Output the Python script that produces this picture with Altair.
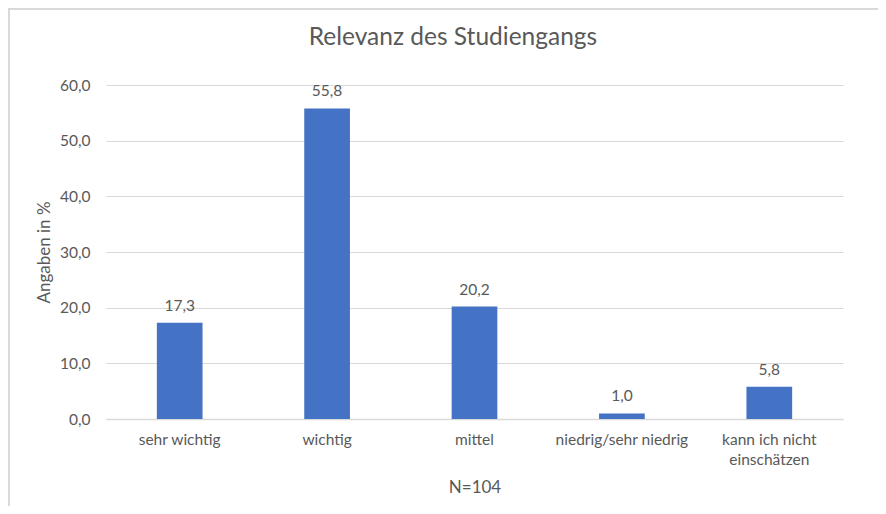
import altair as alt
import pandas as pd

categories = ["sehr wichtig", "wichtig", "mittel", "niedrig/sehr niedrig", "kann ich nicht einschätzen"]
values = [17.3, 55.8, 20.2, 1.0, 5.8]
chart_title = "Relevanz des Studiengangs"

df = pd.DataFrame({"Kategorie": categories, "Wert": values})

FONT = "Lato"
GREY = "#595959"
GRID = "#d9d9d9"
LBL = 15.5

x_enc = alt.X(
    "Kategorie:N",
    sort=categories,
    scale=alt.Scale(paddingInner=0.69, paddingOuter=0.345),
    axis=alt.Axis(
        title="N=104",
        labelAngle=0,
        labelFontSize=LBL,
        labelColor=GREY,
        labelFont=FONT,
        labelPadding=13,
        labelLineHeight=20,
        labelBaseline="top",
        labelExpr="datum.label == 'kann ich nicht einschätzen' ? ['kann ich nicht', 'einschätzen'] : datum.label",
        ticks=False,
        tickSize=0,
        grid=False,
        domainColor=GRID,
        domainWidth=1.5,
        titleFontSize=17,
        titleFontWeight="normal",
        titleColor=GREY,
        titleFont=FONT,
        titlePadding=12,
    ),
)

y_enc = alt.Y(
    "Wert:Q",
    scale=alt.Scale(domain=[0, 60]),
    axis=alt.Axis(
        title="Angaben in %",
        values=[0, 10, 20, 30, 40, 50, 60],
        labelExpr="replace(format(datum.value, '.1f'), '.', ',')",
        labelFontSize=LBL,
        labelColor=GREY,
        labelFont=FONT,
        labelPadding=16,
        ticks=False,
        tickSize=0,
        domain=False,
        gridColor=GRID,
        gridWidth=1,
        titleFontSize=17,
        titleFontWeight="normal",
        titleColor=GREY,
        titleFont=FONT,
        titlePadding=6,
    ),
)

bars = alt.Chart(df).mark_bar(color="#4472C4").encode(x=x_enc, y=y_enc)

labels = (
    alt.Chart(df)
    .transform_calculate(txt="replace(format(datum.Wert, '.1f'), '.', ',')")
    .mark_text(baseline="bottom", dy=-9, fontSize=LBL, color=GREY, font=FONT)
    .encode(x=alt.X("Kategorie:N", sort=categories), y="Wert:Q", text="txt:N")
)

deco = alt.Data(values=[{"t": chart_title}])
left_line = alt.Chart(deco).mark_rule(color=GRID, strokeWidth=2).encode(
    x=alt.value(-97), y=alt.value(-77), y2=alt.value(421)
)
top_line = alt.Chart(deco).mark_rule(color=GRID, strokeWidth=2).encode(
    x=alt.value(-98), x2=alt.value(772), y=alt.value(-76)
)
title_text = alt.Chart(deco).mark_text(
    fontSize=24.5, color=GREY, font=FONT, align="center", baseline="middle"
).encode(x=alt.value(347), y=alt.value(-47), text="t:N")

chart = (
    alt.layer(bars, labels, left_line, top_line, title_text)
    .properties(
        width=737,
        height=334,
        autosize="none",
        background="white",
        padding={"left": 98, "top": 77, "right": 35, "bottom": 87},
    )
    .configure_view(strokeWidth=0, stroke="transparent")
)

chart.save("out.html", embed_options={"renderer": "svg", "actions": False})
